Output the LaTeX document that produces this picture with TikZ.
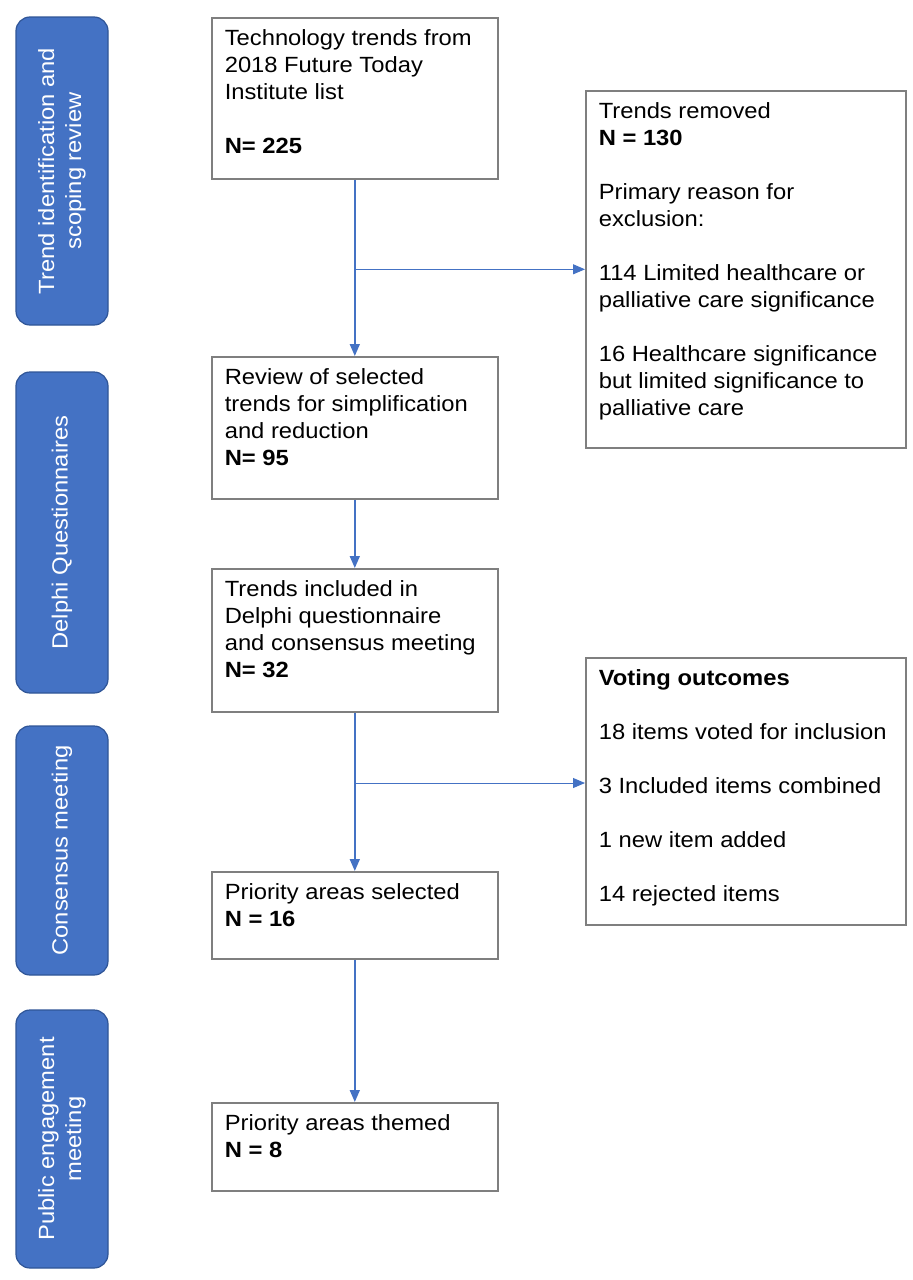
\documentclass[tikz,border=0pt]{standalone}
\usepackage{xcolor}
\usepackage{fontspec}
\setmainfont[FakeStretch=1.08]{Liberation Sans}
\usepackage{tikz}
\usetikzlibrary{arrows.meta, positioning}

\definecolor{phaseblue}{HTML}{4472C4}
\definecolor{phaseedge}{HTML}{2F5597}
\definecolor{boxgray}{HTML}{7F7F7F}

\newcommand{\flowtext}[3]{\parbox[t][#2][t]{#1}{\raggedright\strut #3}}

\begin{document}
\begin{tikzpicture}[x=1pt, y=-1pt,
			>={Triangle[length=12pt, width=10pt]},
			font=\fontsize{22pt}{27pt}\selectfont,
			phase/.style={rounded corners=14pt, fill=phaseblue, draw=phaseedge, line width=1.2pt,
				text=white, align=center, rotate=90, minimum height=92pt, inner sep=0pt},
			flow/.style={draw=boxgray, line width=1.6pt, anchor=north west,
				inner xsep=13pt, inner ysep=8.5pt},
			link/.style={->, draw=phaseblue, line width=1.5pt},
			branch/.style={->, draw=phaseblue, line width=1pt}]

			\useasboundingbox (0,0) rectangle (913,1280);

			% phases on the left
			\node (trend) [phase, minimum width=308pt] at (62,171) {Trend identification and\\scoping review};
			\node (delphi) [phase, minimum width=321pt] at (62,532.5) {Delphi Questionnaires};
			\node (consensus) [phase, minimum width=249pt] at (62,850.5) {Consensus meeting};
			\node (public) [phase, minimum width=258pt] at (62,1139) {Public engagement\\meeting};

			% main flow
			\node (tech) [flow] at (211,17) {\flowtext{260pt}{144pt}{Technology trends from\\2018 Future Today\\Institute list\\[27pt]\textbf{N= 225}}};
			\node (review) [flow] at (211,356) {\flowtext{260pt}{125pt}{Review of selected\\trends for simplification\\and reduction\\\textbf{N= 95}}};
			\node (included) [flow] at (211,568) {\flowtext{260pt}{126pt}{Trends included in\\Delphi questionnaire\\and consensus meeting\\\textbf{N= 32}}};
			\node (selected) [flow] at (211,871) {\flowtext{260pt}{70pt}{Priority areas selected\\\textbf{N = 16}}};
			\node (themed) [flow] at (211,1102) {\flowtext{260pt}{71pt}{Priority areas themed\\\textbf{N = 8}}};

			% side boxes
			\node (removed) [flow] at (585,90) {\flowtext{294pt}{340pt}{Trends removed\\\textbf{N = 130}\\[27pt]Primary reason for\\exclusion:\\[27pt]114 Limited healthcare or\\palliative care significance\\[27pt]16 Healthcare significance\\but limited significance to\\palliative care}};
			\node (voting) [flow] at (585,657) {\flowtext{294pt}{250pt}{\textbf{Voting outcomes}\\[27pt]18 items voted for inclusion\\[27pt]3 Included items combined\\[27pt]1 new item added\\[27pt]14 rejected items}};

			\draw[link] (tech) -- (review);
			\draw[link] (review) -- (included);
			\draw[link] (included) -- (selected);
			\draw[link] (selected) -- (themed);
			\draw[branch] (tech.south |- removed.west) -- (removed.west);
			\draw[branch] (included.south |- 0,783) -- (voting.west |- 0,783);
		\end{tikzpicture}
\end{document}
